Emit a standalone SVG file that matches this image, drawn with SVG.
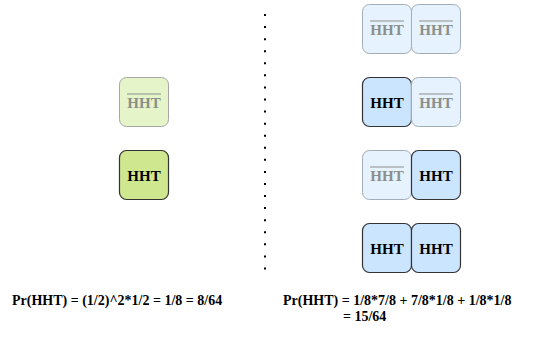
<svg xmlns="http://www.w3.org/2000/svg" width="541" height="339" viewBox="0 0 541 339">
<style>
.t{font-family:"Liberation Serif","Times New Roman",serif;font-weight:bold;font-size:15px;text-anchor:middle}
.lt{fill:#8a8f8a}
.dk{fill:#000}
.gl{fill:#e6f5c9;stroke:#a6a6a6;stroke-width:1}
.gd{fill:#cfe890;stroke:#333;stroke-width:1.2}
.bl{fill:#e6f2fd;stroke:#a3adb8;stroke-width:1}
.bd{fill:#cce5ff;stroke:#333;stroke-width:1.2}
.f{font-family:"Liberation Serif","Times New Roman",serif;font-weight:bold;font-size:14px}
.ov{stroke:#8a8f8a;stroke-width:1}
</style>
<defs>
<g id="ol"><line class="ov" x1="-17" y1="-13.5" x2="17" y2="-13.5"/></g>
</defs>
<g id="connectors">
<line x1="265" y1="14" x2="265" y2="270" stroke="#000" stroke-width="2" stroke-dasharray="2 10.07"/>
</g>
<g id="left-not">
<rect class="gl" x="119.5" y="77.5" width="49" height="49" rx="7"/>
<text class="t lt" x="144" y="107.5">HHT</text>
<use href="#ol" x="144" y="107.5"/>
</g>
<g id="left-hht">
<rect class="gd" x="119.5" y="150.5" width="49" height="49" rx="7"/>
<text class="t dk" x="144" y="180.5">HHT</text>
</g>
<g id="r1a"><rect class="bl" x="362.5" y="4.5" width="49" height="49" rx="7"/><text class="t lt" x="387" y="34.5">HHT</text><use href="#ol" x="387" y="34.5"/></g>
<g id="r1b"><rect class="bl" x="411.5" y="4.5" width="49" height="49" rx="7"/><text class="t lt" x="436" y="34.5">HHT</text><use href="#ol" x="436" y="34.5"/></g>
<g id="r2a"><rect class="bd" x="362.5" y="77.5" width="49" height="49" rx="7"/><text class="t dk" x="387" y="107.5">HHT</text></g>
<g id="r2b"><rect class="bl" x="411.5" y="77.5" width="49" height="49" rx="7"/><text class="t lt" x="436" y="107.5">HHT</text><use href="#ol" x="436" y="107.5"/></g>
<g id="r3a"><rect class="bl" x="362.5" y="150.5" width="49" height="49" rx="7"/><text class="t lt" x="387" y="180.5">HHT</text><use href="#ol" x="387" y="180.5"/></g>
<g id="r3b"><rect class="bd" x="411.5" y="150.5" width="49" height="49" rx="7"/><text class="t dk" x="436" y="180.5">HHT</text></g>
<g id="r4a"><rect class="bd" x="362.5" y="223.5" width="49" height="49" rx="7"/><text class="t dk" x="387" y="253.5">HHT</text></g>
<g id="r4b"><rect class="bd" x="411.5" y="223.5" width="49" height="49" rx="7"/><text class="t dk" x="436" y="253.5">HHT</text></g>
<g id="formula-left">
<text class="f" x="12" y="305">Pr(HHT) = (1/2)^2*1/2 = 1/8 = 8/64</text>
</g>
<g id="formula-right">
<text class="f" x="283" y="305">Pr(HHT) = 1/8*7/8 + 7/8*1/8 + 1/8*1/8</text>
<text class="f" x="343" y="321">= 15/64</text>
</g>
</svg>
